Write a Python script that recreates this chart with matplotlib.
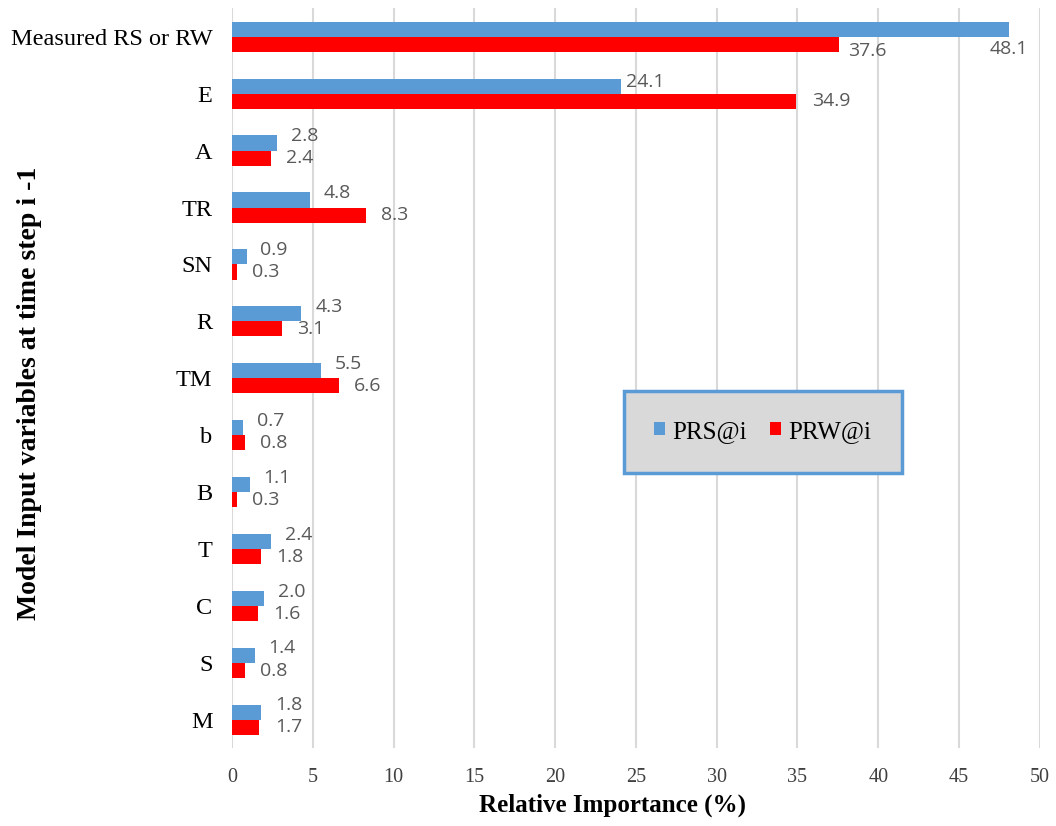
import numpy as np
import matplotlib.pyplot as plt

categories = ['Measured RS or RW', 'E', 'A', 'TR', 'SN', 'R', 'TM', 'b', 'B', 'T', 'C', 'S', 'M']
prs = [48.1, 24.1, 2.8, 4.8, 0.9, 4.3, 5.5, 0.7, 1.1, 2.4, 2.0, 1.4, 1.8]
prw = [37.6, 34.9, 2.4, 8.3, 0.3, 3.1, 6.6, 0.8, 0.3, 1.8, 1.6, 0.8, 1.7]

blue = '#5b9bd5'
red = '#ff0000'
serif = 'Liberation Serif'

fig = plt.figure(figsize=(10.56, 8.26), dpi=100)
ax = fig.add_axes([0.2197, 0.094, 0.765, 0.896])

y = np.arange(len(categories))
h = 0.265
ax.barh(y - h / 2, prs, height=h, color=blue, label='PRS@i', zorder=3)
ax.barh(y + h / 2, prw, height=h, color=red, label='PRW@i', zorder=3)

# label offsets in points (dx, dy); a few rows were moved by hand
blue_off = {0: (0, -14), 1: (3, 3)}
red_off = {0: (6, -5), 1: (12, 0)}
lab_kw = dict(fontsize=14, color='#595959', family='Open Sans', va='center',
              textcoords='offset points')
for i in range(len(categories)):
    dx, dy = blue_off.get(i, (10, 5))
    ha = 'center' if i == 0 else 'left'
    ax.annotate(f'{prs[i]:.1f}', (prs[i], y[i] - h / 2), xytext=(dx, dy), ha=ha, **lab_kw)
    dx, dy = red_off.get(i, (11, 0))
    ax.annotate(f'{prw[i]:.1f}', (prw[i], y[i] + h / 2), xytext=(dx, dy), ha='left', **lab_kw)

ax.set_xlim(0, 50)
ax.set_ylim(12.5, -0.5)
ax.set_xticks(np.arange(0, 51, 5))
ax.set_yticks(y)
ax.set_yticklabels(categories, family=serif, fontsize=17.5)
for t in ax.get_xticklabels():
    t.set_family(serif)
    t.set_fontsize(14.5)
    t.set_color('#404040')
ax.tick_params(axis='y', length=0, pad=14)
ax.tick_params(axis='x', length=0, pad=14)
ax.grid(axis='x', color='#d9d9d9', lw=1.5, zorder=0)
for s in ax.spines.values():
    s.set_visible(False)

ax.set_xlabel('Relative Importance (%)', family=serif, fontsize=18, fontweight='bold')
ax.xaxis.set_label_coords(0.471, -0.061)
ax.set_ylabel('Model Input variables at time step i -1', family=serif, fontsize=20,
              fontweight='bold')
ax.yaxis.set_label_coords(-0.235, 0.48)

leg = ax.legend(loc='center', bbox_to_anchor=(0.657, 0.428), ncol=2, frameon=True, fancybox=False,
                prop={'family': serif, 'size': 18}, handlelength=0.45, handleheight=0.45,
                borderpad=1.2, columnspacing=0.9, handletextpad=0.3)
fr = leg.get_frame()
fr.set_facecolor('#d9d9d9')
fr.set_edgecolor(blue)
fr.set_linewidth(2.5)
fr.set_alpha(1)

fig.savefig('out.png', dpi=100)
